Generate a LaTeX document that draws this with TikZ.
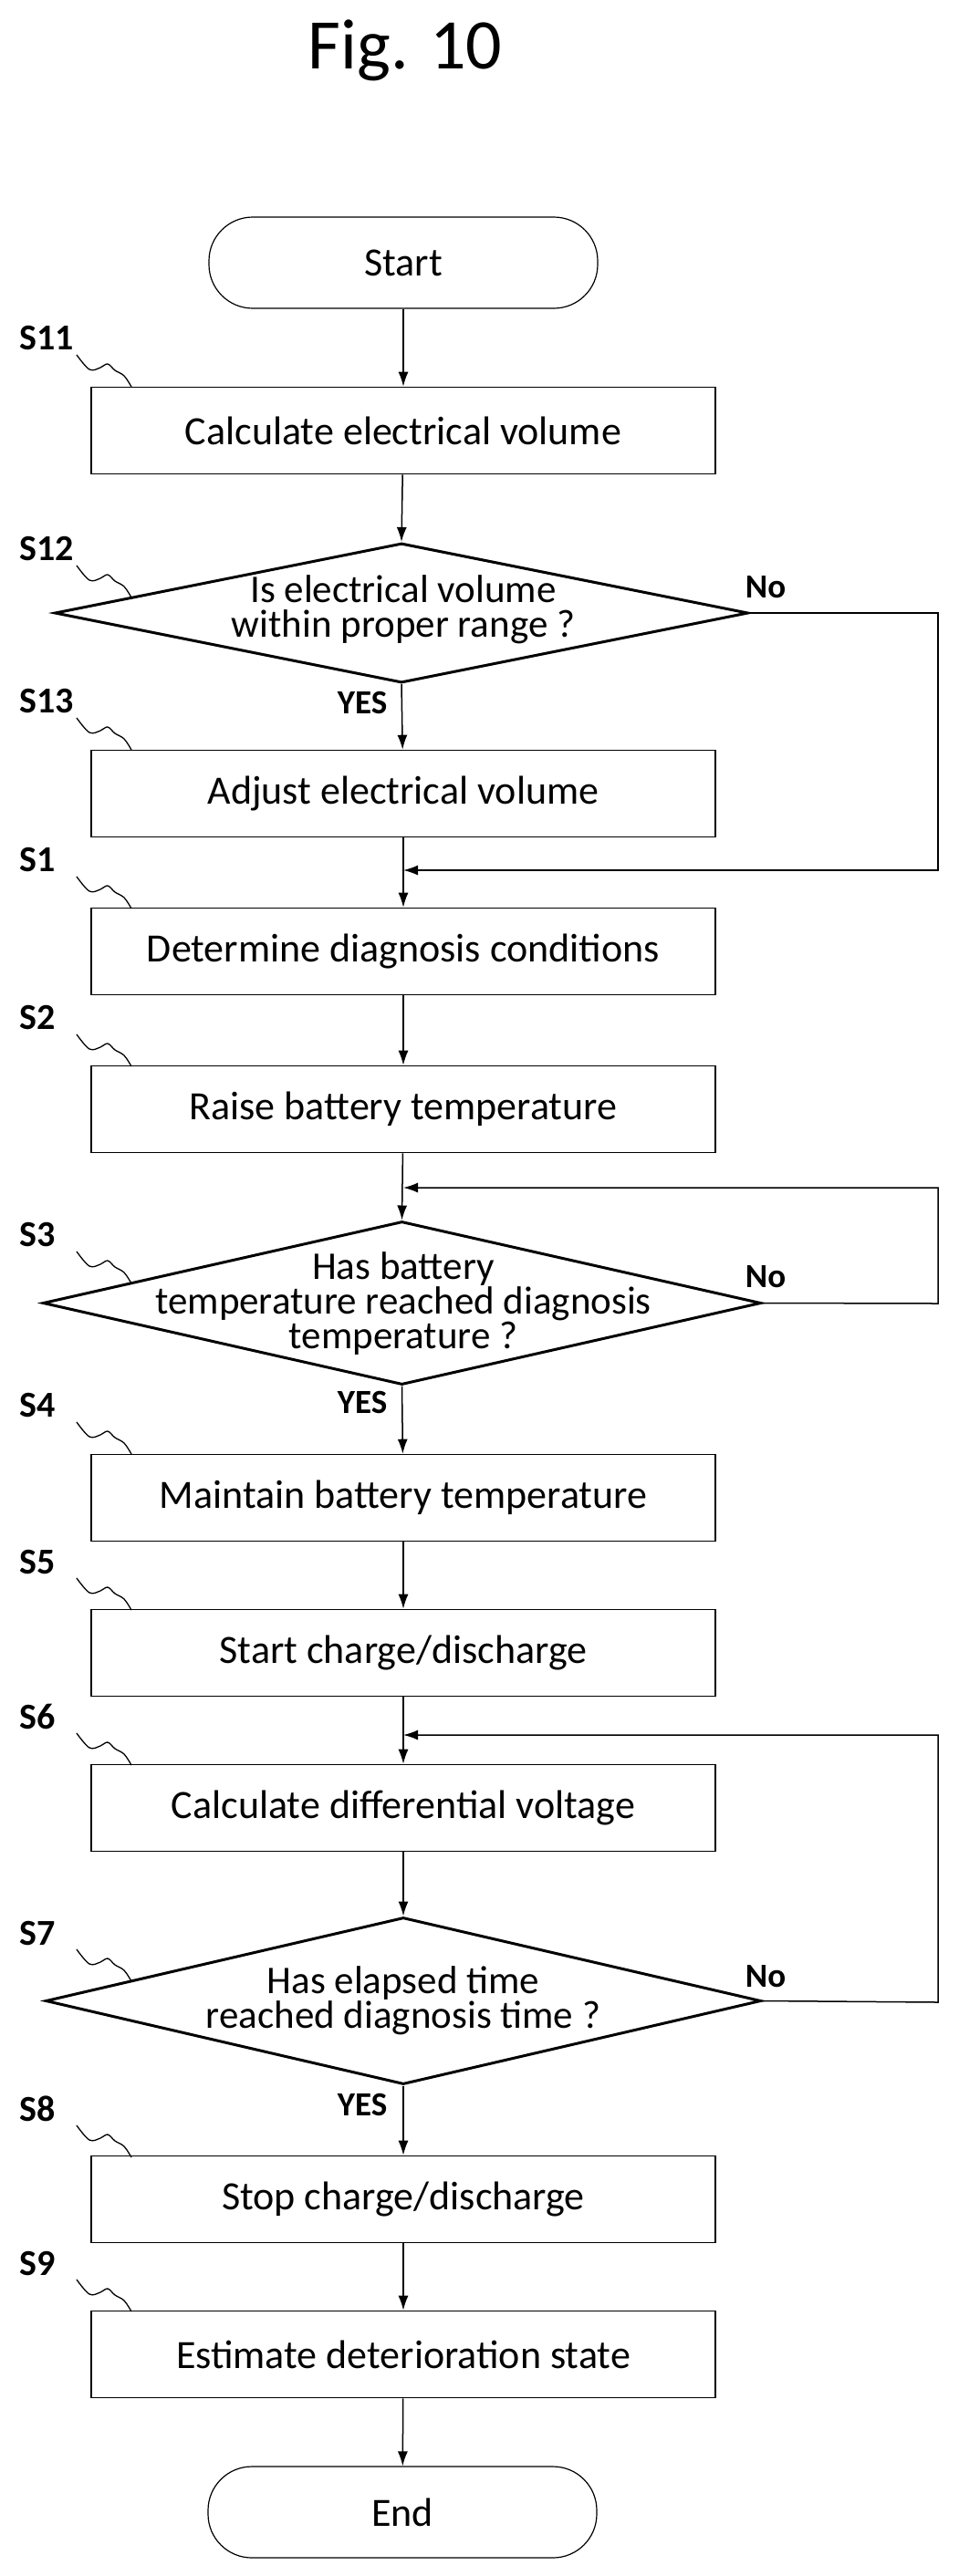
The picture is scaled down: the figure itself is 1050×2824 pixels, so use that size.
\documentclass[tikz,border=0pt]{standalone}
\usepackage{fontspec}
\setmainfont{Carlito}
\usetikzlibrary{shapes.geometric,calc,arrows.meta}
\begin{document}
\begin{tikzpicture}[x=1pt,y=-1pt,
  box/.style={draw,line width=1.6pt,minimum width=684pt,minimum height=95pt,inner sep=0pt,font=\fontsize{44}{46}\selectfont},
  term/.style={draw,line width=1.2pt,rounded corners=48pt,minimum width=426pt,minimum height=100pt,inner sep=0pt,font=\fontsize{44}{46}\selectfont},
  dia/.style={draw,diamond,line width=3pt,inner sep=0pt},
  dtext/.style={align=center,font=\fontsize{43}{38}\selectfont},
  arr/.style={line width=1.5pt,-{Latex[length=16pt,width=11pt]}},
  steplbl/.style={font=\fontsize{40}{40}\selectfont\bfseries},
  yn/.style={font=\fontsize{37}{37}\selectfont\bfseries},
  squig/.style={line width=1.3pt}]
\useasboundingbox (0,0) rectangle (1050,2824);
\node[font=\fontsize{78}{80}\selectfont] (title) at (444,55) {Fig. 10};
\node[term] (start) at (442,288) {Start};
\node[box] (s11) at (442,472) {Calculate electrical volume};
\node[dia,minimum width=760pt,minimum height=153pt] (s12) at (440,672) {};
\node[dtext] (t12) at (442,668) {Is electrical volume\\within proper range ?};
\node[box] (s13) at (442,870) {Adjust electrical volume};
\node[box] (s1) at (442,1043) {Determine diagnosis conditions};
\node[box] (s2) at (442,1216) {Raise battery temperature};
\node[dia,minimum width=787pt,minimum height=179pt] (s3) at (440.5,1428.5) {};
\node[dtext] (t3) at (442,1429) {Has battery\\temperature reached diagnosis\\temperature ?};
\node[box] (s4) at (442,1642) {Maintain battery temperature};
\node[box] (s5) at (442,1812) {Start charge/discharge};
\node[box] (s6) at (442,1982) {Calculate differential voltage};
\node[dia,minimum width=784pt,minimum height=183pt] (s7) at (442,2193.5) {};
\node[dtext] (t7) at (442,2193) {Has elapsed time\\reached diagnosis time ?};
\node[box] (s8) at (442,2411) {Stop charge/discharge};
\node[box] (s9) at (442,2581) {Estimate deterioration state};
\node[term] (end) at (441,2754) {End};

\coordinate (m1) at (442,954);
\coordinate (m3) at (442,1302);
\coordinate (m6) at (442,1902);
\coordinate (r12) at (1028,672);
\coordinate (r3) at (1028,1429);
\coordinate (r7) at (1028,2195);

\draw[arr] (start) -- (s11);
\draw[arr] (s11) -- (s12.north);
\draw[arr] (s12.south) -- (s13);
\draw[arr] (s13) -- (s1);
\draw[arr] (s1) -- (s2);
\draw[arr] (s2) -- (s3.north);
\draw[arr] (s3.south) -- (s4);
\draw[arr] (s4) -- (s5);
\draw[arr] (s5) -- (s6);
\draw[arr] (s6) -- (s7.north);
\draw[arr] (s7.south) -- (s8);
\draw[arr] (s8) -- (s9);
\draw[arr] (s9) -- (end);
\draw[arr] (s12.east) -- (r12) |- (m1);
\draw[arr] (s3.east) -- (r3) |- (m3);
\draw[arr] (s7.east) -- (r7) |- (m6);

\node[yn] (no12) at (839,644) {No};
\node[yn] (no3) at (839,1400) {No};
\node[yn] (no7) at (839,2167) {No};
\node[yn] (y12) at (397,770) {YES};
\node[yn] (y3) at (397,1537) {YES};
\node[yn] (y7) at (397,2307) {YES};

\foreach \n/\lab/\yy in {q11/S11/424, q12/S12/655, q13/S13/822, q1/S1/996, q2/S2/1169, q3/S3/1407, q4/S4/1594, q5/S5/1765, q6/S6/1935, q7/S7/2172, q8/S8/2365, q9/S9/2534}{
  \coordinate (\n) at (144,\yy);
  \draw[squig] plot[smooth,tension=0.6] coordinates {($(\n)+(-60,-35)$) ($(\n)+(-46,-19)$) ($(\n)+(-34,-21)$) ($(\n)+(-26,-25)$) ($(\n)+(-18,-18)$) ($(\n)+(-8,-12)$) (\n)};
  \node[steplbl,anchor=west] (l\n) at ($(\n)+(-126,-53)$) {\lab};
}
\end{tikzpicture}
\end{document}
